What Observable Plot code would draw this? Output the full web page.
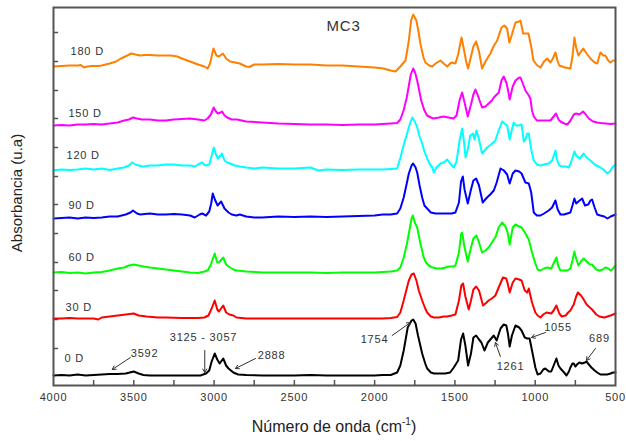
<!DOCTYPE html>
<html><head><meta charset="utf-8">
<script src="https://cdn.jsdelivr.net/npm/d3@7"></script>
<script src="https://cdn.jsdelivr.net/npm/@observablehq/plot@0.6"></script>
<style>
html,body{margin:0;padding:0;background:#fff;}
#chart svg{display:block;}
#chart text{letter-spacing:0.8px;}
</style></head><body><div id="chart"></div>
<script>
// ---- data (wavenumber cm-1, absorbance above each spectrum's baseline, a.u.) ----
const seriesNames = ["0 D","30 D","60 D","90 D","120 D","150 D","180 D"];
const seriesColors = ["#000000","#ff0000","#00ff00","#0000ff","#00ffff","#ff00ff","#ff8000"];
const baselines = [10, 67, 113, 168, 216, 261, 319];
const labelHeights = [27, 78, 128, 180, 230, 272, 334];
const labelWavenumbers = [3932, 3925, 3907, 3907, 3919, 3907, 3894];
const xTickValues = [4000,3500,3000,2500,2000,1500,1000,500];
const xMinorTicks = [3750,3500,3250,3000,2750,2500,2250,2000,1750,1500,1250,1000,750];
const yTicks = [37,66,95,123,152,181,209,238,267,295,324,353];

const s0D = [[4000,0],[3950,0.5],[3900,0],[3850,1],[3800,0],[3750,0.5],[3700,1],[3650,1.5],[3600,1.5],[3550,2],[3500,4],[3470,2],[3440,0.5],[3400,0],[3300,0],[3200,0],[3100,0],[3085,0],[3050,2],[3030,5],[3015,14],[2996,22],[2980,16],[2965,12],[2943,17],[2925,10],[2910,7],[2880,3],[2850,1],[2800,0.5],[2700,0],[2600,0],[2500,0],[2400,0.5],[2300,0],[2200,0],[2100,0],[2000,0],[1950,0.5],[1900,0.5],[1860,3],[1840,10],[1819,25],[1794,48],[1770,55],[1760,56],[1745,52],[1730,40],[1704,22],[1685,12],[1673,7],[1650,3],[1630,2],[1600,2],[1560,2],[1530,3],[1507,8],[1480,15],[1462,36],[1449,42],[1435,30],[1418,10],[1400,22],[1385,38],[1368,40],[1350,36],[1335,33],[1316,25],[1295,33],[1279,36],[1258,40],[1240,35],[1216,47],[1196,51],[1180,50],[1170,42],[1159,29],[1145,40],[1123,50],[1100,48],[1085,45],[1065,38],[1050,37],[1035,37],[1020,25],[999,8],[985,1],[967,2],[950,6],[937,7],[915,4],[900,4],[885,10],[868,17],[855,10],[843,7],[820,3],[805,0],[790,4],[781,8],[768,12],[760,12],[750,9],[740,11],[725,13],[708,12],[690,13],[681,14],[666,11],[650,8],[630,5],[614,3],[594,1],[570,1],[552,1],[530,2],[515,3],[500,3]];

const s30D = [[4000,0],[3950,0],[3900,0.5],[3850,0],[3800,0],[3750,0],[3720,-1],[3700,1],[3650,2],[3600,3],[3550,4],[3500,5],[3470,3],[3420,2],[3350,1],[3300,1],[3200,0.5],[3100,0.5],[3060,1],[3035,3],[3015,10],[2996,18],[2980,9],[2970,7],[2943,13],[2925,6],[2905,4],[2880,3],[2860,1],[2800,0],[2700,0],[2600,0],[2500,0],[2400,0],[2300,0],[2200,0],[2100,0],[2000,0],[1950,0],[1900,0.5],[1860,1.5],[1840,6],[1819,18],[1800,30],[1787,38],[1770,44],[1756,45],[1740,38],[1725,28],[1704,18],[1685,10],[1673,6],[1650,2],[1630,1],[1600,1],[1570,2],[1548,2],[1520,3],[1497,4],[1475,18],[1460,33],[1449,35],[1435,22],[1414,9],[1400,18],[1385,29],[1368,32],[1350,28],[1325,13],[1310,15],[1290,18],[1270,20],[1248,23],[1225,32],[1201,41],[1180,40],[1170,34],[1159,26],[1140,36],[1123,40],[1100,39],[1085,38],[1065,28],[1050,26],[1040,30],[1020,16],[999,6],[985,3],[967,1],[950,4],[930,6],[900,5],[885,8],[868,13],[850,5],[835,2],[810,3],[795,6],[781,8],[760,14],[745,22],[734,26],[715,23],[698,19],[680,14],[660,11],[646,9],[620,4],[600,2],[570,1],[550,2],[530,3],[500,5]];

const s60D = [[4000,0],[3950,0.5],[3900,-0.5],[3850,0],[3800,-1],[3750,0],[3700,0.5],[3650,2],[3600,4],[3560,5],[3530,7],[3500,8],[3470,7],[3440,6],[3400,5],[3350,4],[3300,3],[3250,2],[3200,1],[3150,0],[3100,-0.5],[3060,1],[3040,2],[3020,8],[2996,19],[2980,10],[2970,10],[2943,15],[2925,8],[2910,6],[2880,3],[2860,2],[2800,1],[2700,0],[2600,0],[2500,0],[2400,0],[2300,-0.5],[2200,0],[2100,0],[2000,0],[1950,0.5],[1900,1],[1860,2],[1840,5],[1819,15],[1800,28],[1787,39],[1770,54],[1762,57],[1750,50],[1735,45],[1715,29],[1694,15],[1680,10],[1663,7],[1640,5],[1611,4],[1580,4],[1560,5],[1539,6],[1510,6],[1497,7],[1475,20],[1462,38],[1455,40],[1440,25],[1420,11],[1400,25],[1385,34],[1366,37],[1350,30],[1331,20],[1310,22],[1290,25],[1270,30],[1248,35],[1228,45],[1206,50],[1185,46],[1172,40],[1159,28],[1140,45],[1123,48],[1100,46],[1085,45],[1065,40],[1040,33],[1020,20],[999,9],[985,3],[967,2],[945,4],[926,5],[900,4],[880,11],[868,15],[855,6],[843,2],[820,2],[800,2],[781,4],[768,12],[756,21],[745,14],[731,7],[715,11],[698,14],[680,11],[660,8],[646,8],[620,3],[600,2],[580,3],[563,5],[545,4],[530,2],[515,4],[500,7]];

const s90D = [[4000,-1],[3950,-0.5],[3900,0],[3850,-1],[3800,0],[3750,-0.5],[3700,0],[3650,1],[3600,1],[3550,3],[3520,5],[3505,7],[3480,4],[3460,3],[3400,4],[3350,3],[3300,3],[3250,3.5],[3200,3],[3150,2],[3120,0],[3090,3],[3074,4],[3050,2],[3030,6],[3018,14],[3008,24],[2995,18],[2978,12],[2956,16],[2935,9],[2910,5],[2890,3],[2860,2],[2840,3],[2800,1],[2750,0],[2700,0],[2600,1],[2500,0.5],[2400,1],[2300,0.5],[2200,1],[2100,1.5],[2000,2],[1950,3],[1900,3],[1860,4],[1840,9],[1819,20],[1800,34],[1787,44],[1770,52],[1760,54],[1745,50],[1735,45],[1720,32],[1704,20],[1690,12],[1673,9],[1650,5],[1620,4],[1590,4],[1548,4],[1520,4],[1497,5],[1475,15],[1462,36],[1451,41],[1440,28],[1420,14],[1400,28],[1385,37],[1368,39],[1350,32],[1327,15],[1300,20],[1280,23],[1258,27],[1240,35],[1216,49],[1195,47],[1175,43],[1159,34],[1140,44],[1123,47],[1100,46],[1085,44],[1061,35],[1040,34],[1025,25],[1009,5],[990,2],[967,2],[945,4],[916,7],[895,10],[874,17],[860,8],[843,3],[820,3],[800,4],[781,5],[768,12],[756,19],[745,14],[731,16],[708,19],[690,12],[670,13],[656,17],[646,18],[630,10],[614,3],[594,2],[570,1],[550,-1],[530,1],[500,3]];

const s120D = [[4000,-1],[3950,0],[3900,-0.5],[3850,0],[3800,1],[3750,0],[3700,1],[3650,-0.5],[3600,1],[3560,2],[3530,4],[3510,7],[3490,5],[3470,4],[3440,3],[3400,4],[3350,4],[3300,5],[3250,5],[3200,4],[3150,4],[3120,3],[3100,5],[3074,7],[3055,4],[3030,5],[3018,12],[3002,22],[2988,15],[2977,11],[2960,14],[2950,16],[2935,9],[2918,7],[2900,6],[2870,4],[2840,3],[2800,2],[2750,1],[2700,2],[2600,1],[2500,1],[2400,2],[2350,-1],[2300,0],[2200,-0.5],[2100,0],[2000,0],[1950,0],[1900,0.5],[1860,1],[1839,12],[1820,24],[1798,36],[1780,46],[1765,52],[1750,48],[1735,42],[1720,33],[1704,26],[1690,18],[1673,11],[1655,5],[1640,2],[1632,-3],[1615,2],[1590,6],[1570,7],[1548,10],[1530,6],[1507,2],[1490,8],[1470,30],[1455,41],[1445,30],[1434,12],[1420,20],[1405,34],[1387,36],[1378,30],[1366,39],[1350,30],[1331,16],[1300,22],[1275,25],[1248,29],[1230,38],[1206,48],[1192,46],[1175,44],[1159,30],[1145,40],[1134,47],[1120,44],[1103,44],[1085,45],[1071,28],[1061,30],[1050,36],[1040,36],[1025,20],[1009,9],[990,5],[967,4],[945,5],[916,6],[895,9],[880,16],[874,19],[865,10],[850,4],[830,3],[810,3],[791,2],[775,8],[756,18],[745,14],[723,11],[708,14],[698,16],[680,12],[656,9],[630,5],[594,2],[575,0],[552,-4],[535,-2],[520,2],[500,5]];

const s150D = [[4000,-1],[3950,-0.5],[3900,-1],[3850,0],[3800,0],[3750,0.5],[3700,0],[3650,1],[3600,2],[3560,4],[3530,5],[3505,7],[3480,6],[3450,5],[3400,5],[3350,4],[3300,4],[3250,5],[3200,5.5],[3150,6],[3100,5],[3060,4],[3040,6],[3020,10],[3002,17],[2988,13],[2977,11],[2960,12],[2950,13],[2935,9],[2918,7],[2890,5],[2856,5],[2800,3],[2700,2],[2600,1],[2500,0.5],[2400,0],[2300,0],[2200,-0.5],[2100,0],[2000,0],[1950,0.5],[1900,1],[1860,1.5],[1840,5],[1820,14],[1800,27],[1789,37],[1775,50],[1760,56],[1748,52],[1735,44],[1720,32],[1710,24],[1690,14],[1673,9],[1650,7],[1634,6],[1600,7],[1571,8],[1540,7],[1509,6],[1490,9],[1470,25],[1455,32],[1440,22],[1420,8],[1400,20],[1385,30],[1372,35],[1355,28],[1331,17],[1310,18],[1290,21],[1270,24],[1258,27],[1227,32],[1210,44],[1196,48],[1180,42],[1170,35],[1159,25],[1140,38],[1123,44],[1100,47],[1092,47],[1075,40],[1061,34],[1040,29],[1030,26],[1020,14],[1009,8],[990,4],[967,4],[940,4],[905,4],[885,8],[870,11],[855,5],[843,3],[820,1],[800,0],[780,4],[760,10],[745,11],[725,10],[702,13],[690,11],[666,6],[640,3],[614,2],[594,1.5],[560,1],[530,0.5],[500,1]];

const s180D = [[4000,0],[3950,0.5],[3900,1],[3850,1],[3830,1.5],[3810,-1],[3790,0],[3760,0.5],[3720,0.5],[3700,1],[3650,3],[3610,5],[3580,8],[3540,11],[3515,13],[3490,12],[3460,11],[3430,11.5],[3400,11.5],[3350,11],[3300,11],[3270,11],[3230,10],[3200,8],[3150,5],[3100,2],[3060,0],[3040,-2],[3025,3],[3004,18],[2985,11],[2970,10],[2945,13],[2925,8],[2900,5],[2870,4],[2840,3],[2800,0],[2780,-0.5],[2750,2],[2700,2],[2600,2.5],[2500,2],[2400,2],[2300,1],[2200,1],[2100,0],[2000,-1],[1945,-2],[1900,-4],[1870,-5],[1840,0],[1808,6],[1795,18],[1787,26],[1773,46],[1760,52],[1740,46],[1727,35],[1715,23],[1696,9],[1684,4],[1660,1],[1642,0],[1620,3],[1590,6],[1570,3],[1548,0],[1530,3],[1518,4],[1497,3],[1480,12],[1459,29],[1445,18],[1430,5],[1418,-2],[1400,10],[1385,20],[1368,25],[1350,15],[1331,-2],[1310,5],[1279,13],[1260,20],[1237,26],[1210,39],[1192,41],[1175,38],[1161,24],[1145,32],[1123,44],[1100,45],[1092,46],[1075,33],[1042,33],[1025,20],[1011,6],[988,1],[967,-1],[945,5],[926,8],[905,4],[890,8],[874,14],[860,5],[850,1],[815,-1],[781,-2],[768,10],[756,29],[745,19],[731,11],[715,15],[700,18],[680,13],[656,8],[630,4],[614,3],[600,11],[594,14],[575,11],[563,11],[545,6],[532,4],[515,6],[500,6]];

const seriesValues = [s0D, s30D, s60D, s90D, s120D, s150D, s180D];

const annotations = [
  {label:"3592", tx:3433, ty:32, x1:3521, y1:28, x2:3634, y2:16},
  {label:"3125 - 3057", tx:3066, ty:48, x1:3058, y1:35, x2:3058, y2:13},
  {label:"2888", tx:2642, ty:30, x1:2742, y1:27, x2:2867, y2:17},
  {label:"1754", tx:2001, ty:46, x1:1891, y1:50, x2:1777, y2:63},
  {label:"1261", tx:1154, ty:19, x1:1217, y1:29, x2:1248, y2:43},
  {label:"1055", tx:858, ty:58, x1:936, y1:53, x2:1023, y2:48},
  {label:"689", tx:600, ty:47, x1:625, y1:37, x2:681, y2:25}
];
const plotTitle = "MC3";

// ---- build ----
const rows = seriesValues.flatMap((vals, i) =>
  vals.map(([w, a]) => ({series: seriesNames[i], w, y: baselines[i] + a})));

const chart = Plot.plot({
  width: 626, height: 441,
  marginLeft: 53, marginRight: 11, marginTop: 7, marginBottom: 56,
  style: {fontFamily: "'Liberation Sans', Arial, sans-serif", background: "#fff"},
  x: {domain: [4000, 500], axis: null},
  y: {domain: [0, 378], axis: null},
  color: {domain: seriesNames, range: seriesColors},
  marks: [
    Plot.ruleX(xMinorTicks, {x: d => d, y1: 0, y2: 5, stroke: "#555", strokeWidth: 1.5}),
    Plot.ruleY(yTicks, {y: d => d, x1: 4000, x2: 3968, stroke: "#555", strokeWidth: 1.5}),
    Plot.line(rows, {x: "w", y: "y", z: "series", stroke: "series", strokeWidth: 2, strokeLinejoin: "round"}),
    Plot.text(seriesNames, {x: (d, i) => labelWavenumbers[i], y: (d, i) => labelHeights[i], text: d => d, textAnchor: "start", fontSize: 11, fill: "#333"}),
    Plot.text([plotTitle], {x: () => 2194, y: () => 359, text: d => d, fontSize: 15, fill: "#333"}),
    Plot.arrow(annotations, {x1: "x1", y1: "y1", x2: "x2", y2: "y2", stroke: "#333", strokeWidth: 1, headLength: 6, insetStart: 0, insetEnd: 0}),
    Plot.text(annotations, {x: "tx", y: "ty", text: "label", fontSize: 11, fill: "#333"}),
    Plot.axisX(xTickValues, {tickSize: 0, tickPadding: 8, fontSize: 11, color: "#333", label: null, tickFormat: d => String(d)}),
    Plot.frame({stroke: "#555", strokeWidth: 2})
  ]
});

const svg = d3.select(chart);
const xt = svg.append("text").attr("x", 334).attr("y", 432).attr("text-anchor", "middle")
  .attr("font-size", 16).attr("fill", "#222").style("letter-spacing", "0px");
xt.append("tspan").text("Número de onda (cm");
xt.append("tspan").attr("dy", -7).attr("font-size", 10).text("-1");
xt.append("tspan").attr("dy", 7).text(")");
svg.append("text").attr("transform", "translate(22,193) rotate(-90)").attr("text-anchor", "middle")
  .attr("font-size", 15).attr("fill", "#222").style("letter-spacing", "0px").text("Absorbancia (u.a)");

document.getElementById("chart").appendChild(chart);
</script></body></html>
